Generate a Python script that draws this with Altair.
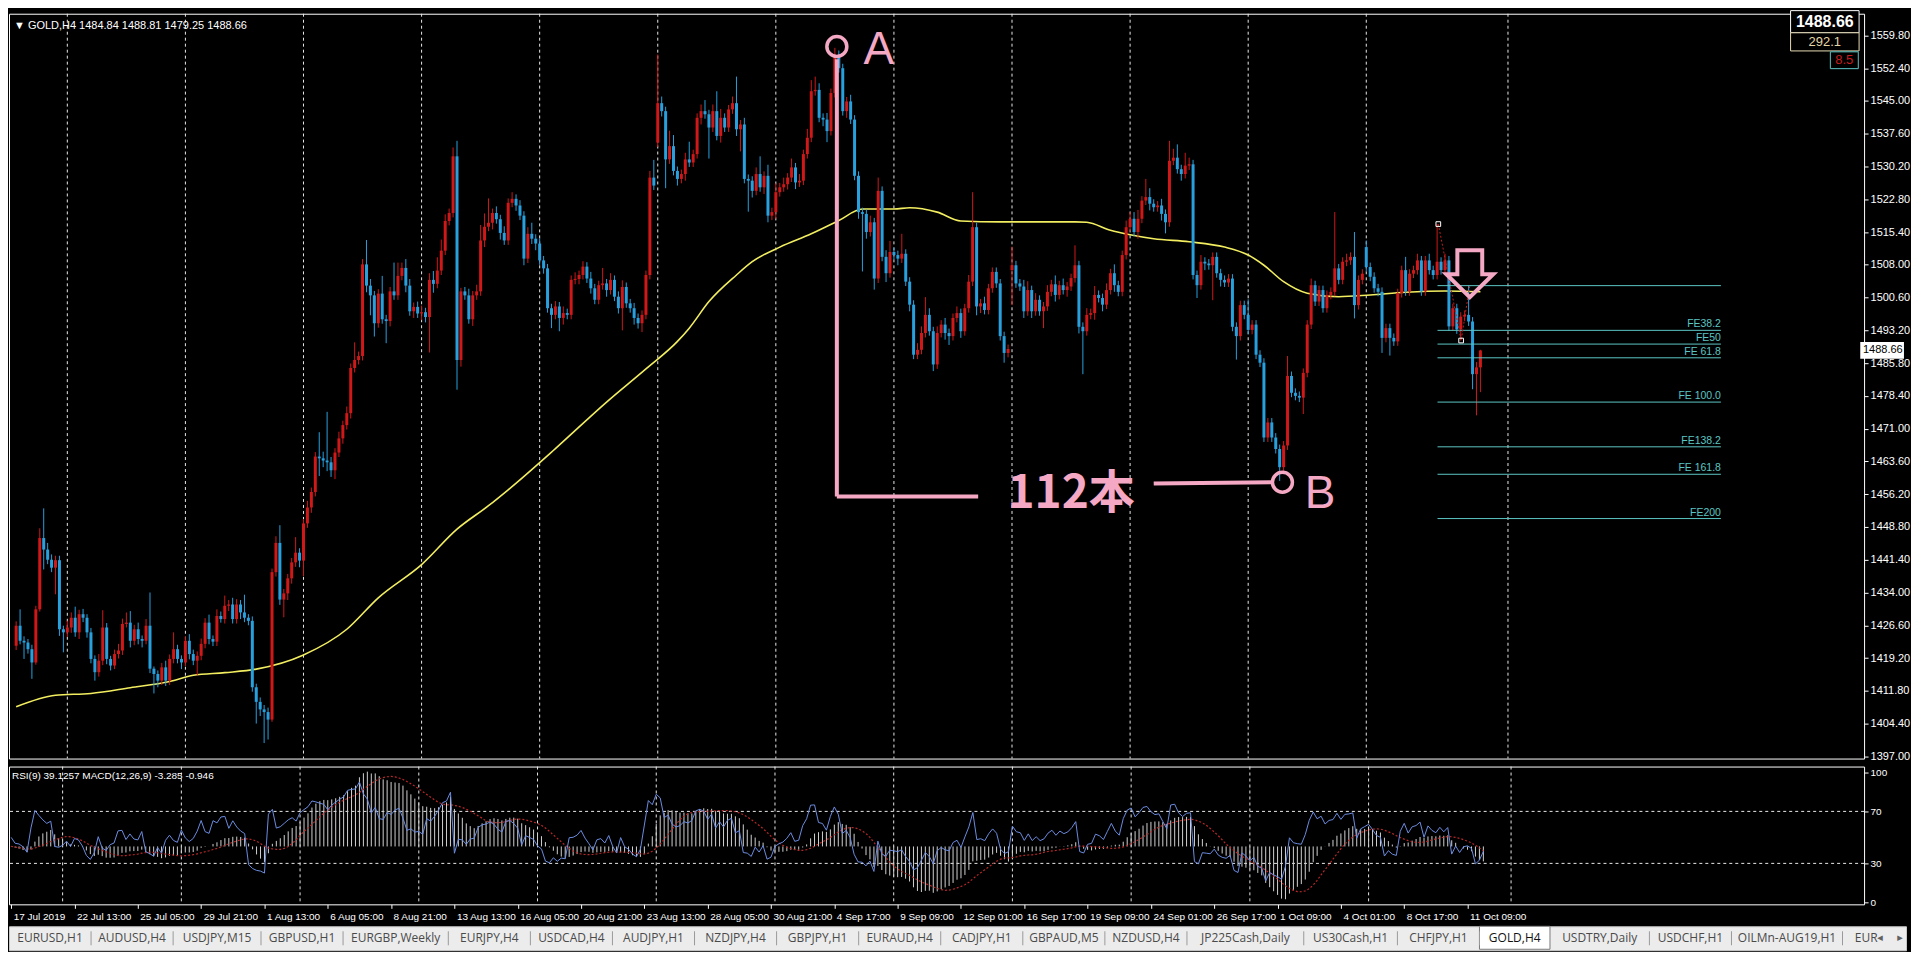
import altair as alt
import pandas as pd
import numpy as np

# ---------------- data ----------------
close_s1 = [1426.5, 1423.1, 1422.7, 1421.2, 1418.2, 1430.2, 1446.3, 1443.7, 1441.4, 1439.6,
            1441.3, 1425.7, 1425.0, 1426.1, 1428.3, 1425.0, 1429.1, 1428.3, 1425.0, 1419.0,
            1416.0, 1418.6, 1426.1, 1419.0, 1417.5, 1420.1, 1420.9, 1426.9, 1427.2, 1423.1,
            1425.7, 1423.5, 1423.1, 1426.5, 1416.8, 1415.6, 1414.1, 1417.1, 1414.1, 1419.0,
            1421.2, 1419.0, 1418.2, 1423.1, 1420.1, 1418.6, 1419.7, 1422.4, 1427.2, 1423.5,
            1422.9, 1428.7, 1428.0, 1431.0, 1431.3, 1428.0, 1431.3, 1429.5, 1428.3, 1427.6,
            1412.6, 1409.3]
close_s2 = [1407.6, 1407.0, 1405.3, 1438.6, 1445.2, 1432.4, 1433.8, 1437.2, 1440.8, 1443.0,
            1441.2, 1449.6, 1453.2, 1456.7, 1464.7, 1464.3, 1463.8, 1463.4, 1461.6, 1465.6,
            1468.8, 1471.8, 1474.5, 1484.7, 1486.5, 1487.4, 1508.1, 1503.3, 1501.1, 1494.8,
            1501.5, 1495.7, 1495.3, 1502.0, 1501.1, 1505.5, 1507.3, 1503.3, 1497.5, 1498.5,
            1497.0, 1497.3, 1496.2, 1504.6, 1503.7, 1506.7, 1511.2, 1517.9, 1519.7, 1532.5,
            1486.5, 1502.0, 1501.1, 1495.7, 1501.1, 1502.0, 1513.5, 1516.6, 1517.5, 1519.7,
            1518.3, 1515.2]
close_s3 = [1513.5, 1522.0, 1522.9, 1521.4, 1519.1, 1509.4, 1515.0, 1513.9, 1512.8, 1509.0,
            1507.2, 1498.2, 1496.7, 1498.6, 1496.0, 1497.1, 1496.7, 1504.6, 1504.8, 1505.7,
            1507.6, 1504.9, 1502.7, 1500.1, 1503.4, 1503.8, 1502.3, 1504.6, 1500.8, 1498.2,
            1503.0, 1499.3, 1498.2, 1496.0, 1494.8, 1496.7, 1505.7, 1527.7, 1525.9, 1544.5,
            1542.7, 1531.8, 1534.8, 1529.2, 1527.4, 1528.5, 1531.8, 1531.1, 1533.0, 1541.2,
            1542.7, 1542.0, 1539.0, 1542.7, 1537.1, 1541.2, 1539.0, 1543.1, 1544.5, 1538.6,
            1539.7, 1527.4, 1527.0]
close_s4 = [1524.7, 1528.5, 1525.5, 1528.1, 1519.1, 1519.9, 1524.4, 1525.5, 1526.2, 1527.7,
            1530.0, 1526.6, 1527.0, 1533.0, 1536.7, 1547.2, 1547.5, 1541.2, 1540.8, 1538.2,
            1546.8, 1555.4, 1552.4, 1542.7, 1544.9, 1540.8, 1528.1, 1519.9, 1519.5, 1515.4,
            1517.6, 1504.9, 1524.7, 1509.8, 1506.1, 1510.9, 1510.2, 1509.4, 1510.5, 1504.2,
            1499.0, 1487.7, 1488.8, 1492.6, 1496.7, 1493.0, 1485.5, 1492.6, 1494.5, 1492.6,
            1491.9, 1496.0, 1497.1, 1493.0, 1498.2, 1504.2, 1516.5, 1498.6, 1499.3, 1497.8,
            1502.7, 1506.4, 1503.8]
close_s5 = [1491.9, 1488.1, 1489.0, 1507.9, 1503.8, 1503.1, 1497.5, 1502.3, 1497.5, 1500.1,
            1497.5, 1498.6, 1501.9, 1503.6, 1501.2, 1503.4, 1502.3, 1503.1, 1505.0, 1507.9,
            1494.0, 1493.0, 1496.7, 1497.1, 1501.2, 1500.5, 1499.0, 1502.3, 1506.1, 1503.4,
            1501.9, 1510.2, 1516.5, 1518.4, 1515.4, 1518.4, 1522.5, 1523.3, 1521.8, 1521.0,
            1521.4, 1519.5, 1517.6, 1531.5, 1532.2, 1529.6, 1528.5, 1530.4, 1530.7, 1505.7,
            1503.4, 1508.7, 1508.3, 1507.9, 1509.8, 1506.1, 1504.6, 1504.0, 1504.9, 1494.0,
            1491.9, 1498.9, 1496.7]
close_s6 = [1493.3, 1494.5, 1487.7, 1485.9, 1469.0, 1472.4, 1469.0, 1466.4, 1462.3, 1467.2,
            1482.9, 1479.1, 1478.4, 1478.0, 1483.6, 1494.5, 1503.4, 1499.7, 1502.3, 1498.2,
            1501.2, 1501.9, 1507.2, 1504.6, 1508.7, 1509.0, 1509.8, 1498.9, 1504.6, 1506.0,
            1507.5, 1505.3, 1502.7, 1501.9, 1491.5, 1493.7, 1491.5, 1490.7, 1501.6, 1506.8,
            1502.0, 1506.0, 1506.8, 1509.0, 1502.0, 1509.0, 1506.8, 1505.7, 1508.7, 1506.8,
            1509.0, 1494.1, 1498.2, 1493.4, 1496.3, 1496.7, 1495.2, 1483.3, 1484.84, 1488.66]

wick_up_s1 = [1.0, 3.7, 1.0, 0.8, 1.0, 0.8, 2.2, 6.7, 1.5, 1.2,
              1.0, 1.0, 0.8, 1.5, 1.2, 2.5, 1.0, 1.2, 0.8, 1.0,
              0.8, 1.5, 3.9, 1.0, 0.7, 1.0, 1.5, 1.2, 2.3, 2.6,
              1.0, 1.5, 0.8, 1.5, 7.5, 0.5, 0.8, 1.0, 1.5, 1.0,
              3.8, 1.0, 0.8, 1.0, 1.5, 1.0, 1.0, 1.2, 1.0, 1.8,
              0.8, 1.5, 1.0, 2.3, 1.0, 1.5, 1.2, 1.0, 4.0, 0.8,
              1.0, 0.8]
wick_up_s2 = [1.0, 1.0, 1.0, 0.8, 1.5, 4.0, 1.0, 1.0, 1.0, 3.5,
              1.0, 1.0, 1.5, 1.0, 1.0, 5.5, 1.5, 11.0, 1.2, 1.0,
              1.5, 1.0, 1.5, 1.0, 4.0, 1.0, 1.2, 5.5, 1.5, 1.0,
              1.0, 4.0, 1.0, 1.0, 6.5, 3.0, 1.2, 2.0, 1.5, 1.0,
              1.2, 1.5, 1.0, 1.5, 2.0, 3.0, 2.5, 1.5, 1.0, 2.0,
              3.5, 0.8, 1.0, 1.5, 1.0, 1.5, 3.5, 3.0, 5.5, 1.0,
              1.5, 1.0]
wick_up_s3 = [1.5, 1.0, 1.5, 1.0, 1.2, 1.0, 1.5, 2.5, 1.0, 1.2,
              1.0, 1.0, 1.0, 1.2, 1.0, 1.5, 1.0, 1.0, 1.5, 1.0,
              1.2, 1.0, 1.5, 1.0, 1.0, 3.5, 1.0, 1.5, 1.0, 1.2,
              1.5, 1.0, 1.0, 1.2, 1.0, 1.0, 1.0, 1.5, 4.0, 11.0,
              1.5, 1.0, 3.5, 2.5, 1.0, 1.0, 1.5, 4.0, 1.0, 1.0,
              1.5, 2.5, 1.0, 1.5, 4.5, 2.0, 1.0, 1.0, 1.5, 6.0,
              1.0, 1.5, 1.0]
wick_up_s4 = [1.0, 1.5, 4.0, 1.0, 2.5, 1.0, 2.0, 1.0, 1.5, 1.0,
              2.0, 1.0, 1.5, 1.0, 2.0, 2.5, 3.0, 1.5, 1.0, 1.5,
              1.0, 1.6, 1.0, 1.0, 1.0, 1.5, 1.0, 1.0, 1.0, 1.0,
              1.5, 1.0, 3.0, 1.0, 1.5, 2.5, 1.0, 1.0, 4.5, 1.0,
              1.0, 1.0, 1.5, 1.5, 4.0, 1.5, 1.0, 1.5, 1.0, 1.5,
              1.0, 1.0, 1.5, 1.0, 1.0, 1.5, 7.9, 1.0, 1.0, 1.5,
              1.0, 1.0, 1.0]
wick_up_s5 = [1.0, 1.0, 1.0, 4.2, 1.0, 1.0, 1.5, 2.0, 1.0, 1.5,
              1.0, 1.0, 1.5, 1.0, 2.0, 1.0, 1.5, 1.0, 1.0, 4.5,
              1.0, 1.0, 1.5, 1.0, 2.0, 1.0, 1.0, 1.5, 1.0, 2.0,
              1.0, 1.0, 1.5, 1.5, 1.5, 2.0, 1.0, 4.1, 2.0, 1.0,
              1.0, 1.5, 1.0, 4.5, 2.0, 3.0, 1.0, 2.9, 1.5, 1.0,
              1.0, 1.5, 1.0, 1.0, 1.0, 1.0, 1.0, 1.0, 1.0, 1.0,
              1.0, 1.0, 1.0]
wick_up_s6 = [3.5, 1.0, 1.0, 1.0, 1.0, 1.0, 1.0, 1.0, 1.0, 1.0,
              4.5, 1.0, 1.0, 1.0, 1.0, 1.0, 1.5, 1.0, 1.0, 1.0,
              1.0, 1.0, 12.7, 1.0, 1.0, 1.5, 1.0, 5.6, 1.0, 1.0,
              1.5, 1.0, 1.0, 1.0, 1.0, 1.0, 1.0, 1.0, 1.0, 1.0,
              3.0, 1.0, 1.0, 1.5, 1.0, 1.0, 1.5, 1.0, 8.5, 1.0,
              1.5, 1.0, 1.0, 1.0, 1.0, 1.0, 6.6, 1.0, 1.2, 0.15]

wick_dn_s1 = [1.0, 0.8, 3.7, 1.0, 3.7, 0.5, 0.5, 4.5, 1.0, 1.0,
              6.0, 1.5, 4.5, 1.0, 1.2, 1.0, 1.5, 1.0, 1.2, 1.0,
              1.9, 1.0, 1.0, 1.2, 1.1, 0.8, 1.0, 1.0, 0.8, 1.5,
              1.0, 1.2, 1.5, 0.8, 1.0, 4.4, 1.5, 1.0, 1.2, 1.0,
              1.0, 1.0, 1.5, 0.8, 1.2, 1.0, 3.3, 1.0, 1.0, 1.2,
              1.0, 1.0, 0.8, 1.0, 1.2, 1.0, 1.0, 1.5, 1.0, 1.0,
              1.0, 4.9]
wick_dn_s2 = [1.5, 7.0, 4.5, 0.5, 1.0, 1.2, 4.0, 1.5, 1.2, 1.0,
              1.5, 3.5, 1.0, 1.2, 1.0, 4.0, 1.5, 2.0, 1.5, 2.0,
              1.0, 1.2, 1.0, 1.2, 1.0, 1.0, 1.0, 1.5, 4.5, 3.0,
              1.0, 1.0, 5.0, 1.2, 1.0, 1.0, 1.0, 1.5, 1.0, 1.5,
              1.0, 1.5, 1.2, 8.0, 2.0, 1.0, 1.0, 1.0, 1.0, 1.0,
              6.7, 1.5, 1.0, 1.0, 1.5, 1.0, 1.0, 1.5, 1.0, 1.5,
              1.0, 1.5]
wick_dn_s3 = [1.0, 1.0, 1.0, 1.2, 1.0, 1.5, 1.0, 1.2, 1.5, 1.0,
              1.2, 1.0, 3.0, 1.0, 3.0, 1.5, 1.0, 1.0, 1.0, 1.2,
              1.0, 1.0, 1.2, 1.0, 1.0, 1.0, 1.5, 1.0, 1.0, 1.2,
              5.0, 1.0, 1.0, 1.5, 1.2, 2.0, 1.0, 1.0, 1.0, 1.0,
              1.2, 6.5, 1.0, 1.0, 1.5, 1.0, 1.5, 1.0, 1.0, 1.0,
              1.5, 1.0, 7.0, 1.0, 1.0, 1.5, 1.0, 1.0, 1.0, 1.5,
              5.0, 1.0, 7.0]
wick_dn_s4 = [1.5, 1.0, 1.0, 1.5, 1.5, 1.0, 1.5, 1.0, 1.0, 1.2,
              1.0, 1.5, 1.0, 1.0, 1.0, 1.0, 1.0, 1.0, 1.5, 2.5,
              1.0, 1.0, 1.0, 1.0, 1.5, 1.0, 1.0, 1.5, 13.0, 1.5,
              1.0, 2.5, 1.0, 1.0, 2.0, 1.0, 1.0, 1.5, 1.0, 1.0,
              1.5, 1.0, 1.0, 1.0, 1.0, 1.0, 1.5, 1.0, 1.0, 1.5,
              2.0, 1.0, 1.0, 1.5, 1.0, 1.0, 1.0, 2.0, 1.5, 1.0,
              1.0, 1.0, 1.0]
wick_dn_s5 = [1.0, 2.2, 1.0, 7.9, 1.0, 1.0, 1.5, 1.0, 1.5, 1.0,
              1.0, 3.8, 1.0, 1.0, 1.5, 1.0, 1.0, 1.5, 1.0, 1.0,
              1.5, 9.7, 1.0, 1.0, 1.5, 1.0, 1.5, 1.0, 1.0, 1.5,
              1.0, 1.0, 1.0, 1.0, 1.0, 1.5, 1.0, 1.0, 1.5, 1.0,
              1.0, 1.5, 2.5, 1.0, 1.0, 1.0, 1.5, 1.0, 1.0, 1.0,
              2.9, 1.0, 1.5, 1.0, 7.9, 1.0, 1.5, 1.0, 1.0, 1.0,
              5.3, 1.0, 1.0]
wick_dn_s6 = [1.0, 1.0, 1.0, 1.0, 1.0, 1.0, 1.0, 1.0, 3.1, 1.0,
              1.0, 1.0, 1.0, 1.0, 3.7, 1.0, 1.0, 1.0, 1.0, 1.0,
              1.0, 1.0, 1.0, 1.0, 1.0, 1.0, 1.0, 3.0, 1.0, 1.0,
              1.0, 1.0, 1.0, 1.0, 3.4, 1.0, 4.0, 1.0, 1.0, 1.0,
              1.0, 1.0, 1.0, 1.0, 1.0, 1.0, 1.0, 1.0, 1.0, 1.0,
              1.0, 1.0, 1.0, 1.0, 2.5, 1.0, 1.0, 3.4, 9.3, 5.59]

# opens that differ from the previous close (weekly gaps)
gap_opens = {0: 1422.0, 163: 1535.6, 253: 1506.8, 343: 1512.0}

ma_bar = [0, 10, 19, 29, 39, 45, 53, 61, 73, 84, 92, 103, 112, 120, 125, 137, 150, 160,
          168, 171, 176, 183, 187, 194, 202, 209, 215, 223, 227, 234, 240, 250, 269, 272,
          278, 283, 289, 298, 307, 313, 317, 322, 328, 336, 344, 353, 363, 372]
ma_value = [1408.2, 1410.8, 1411.2, 1412.5, 1413.9, 1415.3, 1415.9, 1416.7, 1419.9, 1425.7,
            1432.8, 1440.3, 1448.3, 1453.6, 1457.2, 1466.5, 1477.0, 1484.5, 1490.7, 1493.7,
            1499.7, 1505.7, 1508.7, 1512.0, 1515.0, 1518.0, 1520.6, 1520.6, 1520.9, 1519.9,
            1517.9, 1517.7, 1517.7, 1517.6, 1515.8, 1514.8, 1513.9, 1513.2, 1512.0, 1510.2,
            1507.9, 1504.2, 1501.6, 1500.8, 1501.2, 1501.8, 1502.1, 1501.9]

fe_levels = [1503.3, 1493.2, 1490.1, 1487.0, 1477.0, 1466.9, 1460.7, 1450.7]
fe_labels = ["", "FE38.2", "FE50", "FE 61.8", "FE 100.0", "FE138.2", "FE 161.8", "FE200"]
fe_anchor_bar = [361.3, 367.1, 369.3]
fe_anchor_price = [1517.2, 1490.9, 1503.3]

week_bars = [13, 43, 73, 103, 133, 163, 193, 223, 253, 283, 313, 343, 379]
price_ticks = [1397.00, 1404.40, 1411.80, 1419.20, 1426.60, 1434.00, 1441.40, 1448.80,
               1456.20, 1463.60, 1471.00, 1478.40, 1485.80, 1493.20, 1500.60, 1508.00,
               1515.40, 1522.80, 1530.20, 1537.60, 1545.00, 1552.40, 1559.80]
rsi_ticks = [0, 30, 70, 100]
rsi_levels = [30, 70]
date_labels = ["17 Jul 2019", "22 Jul 13:00", "25 Jul 05:00", "29 Jul 21:00", "1 Aug 13:00",
               "6 Aug 05:00", "8 Aug 21:00", "13 Aug 13:00", "16 Aug 05:00", "20 Aug 21:00",
               "23 Aug 13:00", "28 Aug 05:00", "30 Aug 21:00", "4 Sep 17:00", "9 Sep 09:00",
               "12 Sep 01:00", "16 Sep 17:00", "19 Sep 09:00", "24 Sep 01:00", "26 Sep 17:00",
               "1 Oct 09:00", "4 Oct 01:00", "8 Oct 17:00", "11 Oct 09:00"]
label_bars = [0, 16, 32, 48, 64, 80, 96, 112, 128, 144, 160, 176, 192, 208, 224, 240, 256,
              272, 288, 304, 320, 336, 352, 368]
tabs = ["EURUSD,H1", "AUDUSD,H4", "USDJPY,M15", "GBPUSD,H1", "EURGBP,Weekly", "EURJPY,H4",
        "USDCAD,H4", "AUDJPY,H1", "NZDJPY,H4", "GBPJPY,H1", "EURAUD,H4", "CADJPY,H1",
        "GBPAUD,M5", "NZDUSD,H4", "JP225Cash,Daily", "US30Cash,H1", "CHFJPY,H1", "GOLD,H4",
        "USDTRY,Daily", "USDCHF,H1", "OILMn-AUG19,H1", "EUR"]
active_tab = "GOLD,H4"
header_text = "\u25BC GOLD,H4  1484.84 1488.81 1479.25 1488.66"
indicator_text = "RSI(9) 39.1257  MACD(12,26,9) -3.285 -0.946"
info_texts = ["1488.66", "292.1", "8.5"]
last_price = 1488.66
span_text = "112\u672C"

# ---------------- styling ----------------
FONT = "Liberation Sans"
UP = "#d01818"
DOWN = "#27a0dd"
MA_COL = "#f2ee60"
CYAN = "#5cc6c4"
PINK = "#f5a8c4"
RSI_COL = "#6a8ce0"
HIST = "#d0d0d0"
SIG = "#b82828"

W = 1858
H_MAIN = 746
H_RSI = 138
XDOM = [-0.55, 468.2]
YDOM = [1396.5, 1564.7]

# ---------------- candles ----------------
close = close_s1 + close_s2 + close_s3 + close_s4 + close_s5 + close_s6
wick_up = wick_up_s1 + wick_up_s2 + wick_up_s3 + wick_up_s4 + wick_up_s5 + wick_up_s6
wick_dn = wick_dn_s1 + wick_dn_s2 + wick_dn_s3 + wick_dn_s4 + wick_dn_s5 + wick_dn_s6
n = len(close)
assert len(wick_up) == n and len(wick_dn) == n, (n, len(wick_up), len(wick_dn))

opens = [gap_opens.get(i, close[i - 1] if i > 0 else close[0]) for i in range(n)]
rows = []
for i in range(n):
    o, c = opens[i], close[i]
    top, bot = max(o, c), min(o, c)
    if top - bot < 0.25:
        mid = (top + bot) / 2
        top, bot = mid + 0.12, mid - 0.12
    rows.append({"i": i, "o": o, "c": c,
                 "h": max(o, c) + wick_up[i], "l": min(o, c) - wick_dn[i],
                 "b0": bot, "b1": top, "dir": "up" if c >= o else "down"})
candles = pd.DataFrame(rows)

# indicators computed from the closes (Wilder RSI(9), MACD(12,26,9))
dd = np.diff(np.array(close, dtype=float))
seed = float(np.mean(np.abs(dd[:20]))) / 2.0
ag, al = seed, seed
rsi_vals = [50.0]
for v in dd:
    ag = (ag * 8 + max(v, 0.0)) / 9
    al = (al * 8 + max(-v, 0.0)) / 9
    rsi_vals.append(100.0 - 100.0 / (1.0 + ag / al) if al > 0 else 100.0)
s = pd.Series(close, dtype=float)
macd = s.ewm(span=12, adjust=False).mean() - s.ewm(span=26, adjust=False).mean()
signal = macd.rolling(9, min_periods=1).mean()
ind = pd.DataFrame({"i": range(n), "rsi": rsi_vals, "macd": macd, "sig": signal, "zero": 0.0})
mlo, mhi = float(macd.min()), float(macd.max())
mpad = 0.04 * (mhi - mlo)

# ---------------- scales / axes ----------------
xsc = alt.Scale(domain=XDOM, nice=False, zero=False)
ysc = alt.Scale(domain=YDOM, nice=False, zero=False)
price_axis = alt.Axis(orient="right", values=price_ticks, format=".2f", title=None,
                      tickSize=4, labelPadding=2, domain=False, grid=False,
                      labelOverlap=False, labelFlush=False)
dir_scale = alt.Scale(domain=["up", "down"], range=[UP, DOWN])


def X(field):
    return alt.X(field, type="quantitative", scale=xsc, axis=None)


def Yp(field):
    return alt.Y(field, type="quantitative", scale=ysc, axis=price_axis)


week_df = pd.DataFrame({"i": week_bars})
grid_main = alt.Chart(week_df).mark_rule(color="#e8e8e8", strokeDash=[3, 3], strokeWidth=1).encode(
    x=X("i"))

ma_df = pd.DataFrame({"bar": ma_bar, "val": ma_value})
ma_line = alt.Chart(ma_df).mark_line(color=MA_COL, strokeWidth=1.6, interpolate="monotone").encode(
    x=X("bar"), y=Yp("val"))

wicks = alt.Chart(candles).mark_rule(strokeWidth=1).encode(
    x=X("i"), y=Yp("l"), y2="h",
    color=alt.Color("dir:N", scale=dir_scale, legend=None))
bodies = alt.Chart(candles).mark_bar(size=3).encode(
    x=X("i"), y=Yp("b0"), y2="b1",
    color=alt.Color("dir:N", scale=dir_scale, legend=None))

fe_df = pd.DataFrame({"lv": fe_levels, "lab": fe_labels})
fe_df["x0"] = 361.1
fe_df["x1"] = 433.1
fe_lines = alt.Chart(fe_df).mark_rule(color=CYAN, strokeWidth=1).encode(
    x=X("x0"), x2="x1", y=Yp("lv"))
fe_text = alt.Chart(fe_df).mark_text(align="right", baseline="bottom", dy=-1, color=CYAN,
                                     font=FONT, fontSize=10.5).encode(
    x=X("x1"), y=Yp("lv"), text="lab:N")

anc_df = pd.DataFrame({"bar": fe_anchor_bar, "p": fe_anchor_price, "k": [0, 1, 2]})
anc_line = alt.Chart(anc_df).mark_line(color="#c02020", strokeDash=[2, 2], strokeWidth=1).encode(
    x=X("bar"), y=Yp("p"), order="k:Q")
anc_pts = alt.Chart(anc_df.iloc[:2]).mark_point(shape="square", size=22, filled=False,
                                                color="white", strokeWidth=1, opacity=1).encode(
    x=X("bar"), y=Yp("p"))

ARROW = "M -0.53 -1 L 0.53 -1 L 0.53 0.02 L 1 0.02 L 0 1 L -1 0.02 L -0.53 0.02 Z"
arrow = alt.Chart(pd.DataFrame({"bar": [369.3], "p": [1506.0]})).mark_point(
    shape=ARROW, size=2209, filled=False, color=PINK, strokeWidth=4, opacity=1).encode(
    x=X("bar"), y=Yp("p"))

seg_df = pd.DataFrame({"x0": [208.5, 208.5, 289.0], "x1": [208.5, 244.4, 319.0],
                       "y0": [1554.4, 1455.7, 1458.6], "y1": [1455.7, 1455.7, 1458.9]})
segs = alt.Chart(seg_df).mark_rule(color=PINK, strokeWidth=4).encode(
    x=X("x0"), x2="x1", y=Yp("y0"), y2="y1")
circ = alt.Chart(pd.DataFrame({"bar": [208.5, 321.7], "p": [1557.3, 1458.9]})).mark_point(
    shape="circle", size=400, filled=False, color=PINK, strokeWidth=3.5, opacity=1).encode(
    x=X("bar"), y=Yp("p"))
ab_text = alt.Chart(pd.DataFrame({"bar": [215.3, 327.4], "p": [1556.6, 1456.2], "t": ["A", "B"]})).mark_text(
    align="left", baseline="middle", color=PINK, font=FONT, fontSize=46).encode(
    x=X("bar"), y=Yp("p"), text="t:N")
span_lbl = alt.Chart(pd.DataFrame({"bar": [268.0], "p": [1456.2], "t": [span_text]})).mark_text(
    align="center", baseline="middle", color=PINK, font="Noto Sans CJK JP", fontWeight="bold",
    fontSize=46).encode(x=X("bar"), y=Yp("p"), text="t:N")

header = alt.Chart(pd.DataFrame({"t": [header_text]})).mark_text(
    align="left", baseline="middle", color="white", font=FONT, fontSize=11).encode(
    x=alt.value(5), y=alt.value(12), text="t:N")

box_df = pd.DataFrame({"x0": [450.8, 450.8, 460.9], "x1": [468.2, 468.2, 468.0],
                       "y0": [1565.4, 1560.4, 1556.1], "y1": [1560.4, 1556.3, 1552.3],
                       "st": ["#ffffff", "#e6dcb4", CYAN]})
boxes = alt.Chart(box_df).mark_rect(fill="black", strokeWidth=1).encode(
    x=X("x0"), x2="x1", y=Yp("y0"), y2="y1",
    stroke=alt.Stroke("st:N", scale=None))
box_t1 = alt.Chart(pd.DataFrame({"bar": [459.5], "p": [1562.9], "t": [info_texts[0]]})).mark_text(
    align="center", baseline="middle", color="white", font=FONT, fontWeight="bold", fontSize=16).encode(
    x=X("bar"), y=Yp("p"), text="t:N")
box_t2 = alt.Chart(pd.DataFrame({"bar": [459.5], "p": [1558.35], "t": [info_texts[1]]})).mark_text(
    align="center", baseline="middle", color="#e6d6a6", font=FONT, fontSize=13).encode(
    x=X("bar"), y=Yp("p"), text="t:N")
box_t3 = alt.Chart(pd.DataFrame({"bar": [464.45], "p": [1554.2], "t": [info_texts[2]]})).mark_text(
    align="center", baseline="middle", color="#c81c1c", font=FONT, fontSize=13).encode(
    x=X("bar"), y=Yp("p"), text="t:N")

tag_rect = alt.Chart(pd.DataFrame({"x0": [468.5], "x1": [479.6], "y0": [last_price - 1.9],
                                   "y1": [last_price + 1.9]})).mark_rect(fill="white").encode(
    x=X("x0"), x2="x1", y=Yp("y0"), y2="y1")
tag_text = alt.Chart(pd.DataFrame({"bar": [469.2], "p": [last_price], "t": [f"{last_price:.2f}"]})).mark_text(
    align="left", baseline="middle", color="black", font=FONT, fontSize=11).encode(
    x=X("bar"), y=Yp("p"), text="t:N")

main = alt.layer(grid_main, ma_line, wicks, bodies, fe_lines, fe_text, anc_line, anc_pts,
                 arrow, segs, circ, ab_text, span_lbl, header, boxes, box_t1, box_t2, box_t3,
                 tag_rect, tag_text).properties(width=W, height=H_MAIN)

# ---------------- RSI / MACD panel ----------------
js_labels = "[" + ",".join("'" + t + "'" for t in date_labels) + "]"
js_bars = "[" + ",".join(str(b) for b in label_bars) + "]"
date_axis = alt.Axis(orient="bottom", values=label_bars,
                     labelExpr=f"{js_labels}[indexof({js_bars}, datum.value)]",
                     labelAlign="left", labelBaseline="top", labelOffset=2, labelPadding=3,
                     labelFontSize=10, tickSize=4, domain=False, grid=False, title=None,
                     labelOverlap=False, labelFlush=False, labelBound=False)
xr = alt.X("i:Q", scale=xsc, axis=date_axis)
rsc = alt.Scale(domain=[-1.5, 104.5], nice=False, zero=False)
msc = alt.Scale(domain=[mlo - mpad, mhi + mpad], nice=False, zero=False)
rsi_axis = alt.Axis(orient="right", values=rsi_ticks, title=None, tickSize=4, labelPadding=2,
                    labelFontSize=10, domain=False, grid=False, labelFlush=False, labelOverlap=False)

grid_rsi = alt.Chart(week_df).mark_rule(color="#e8e8e8", strokeDash=[3, 3], strokeWidth=1).encode(x=xr)
lvl = alt.Chart(pd.DataFrame({"v": rsi_levels})).mark_rule(
    color="#e8e8e8", strokeDash=[3, 3], strokeWidth=1).encode(
    y=alt.Y("v:Q", scale=rsc, axis=None))
hist = alt.Chart(ind).mark_rule(color=HIST, strokeWidth=1).encode(
    x=xr, y=alt.Y("zero:Q", scale=msc, axis=None), y2="macd:Q")
sig_line = alt.Chart(ind).mark_line(color=SIG, strokeWidth=1.2, strokeDash=[2, 2]).encode(
    x=xr, y=alt.Y("sig:Q", scale=msc, axis=None))
rsi_line = alt.Chart(ind).mark_line(color=RSI_COL, strokeWidth=1).encode(
    x=xr, y=alt.Y("rsi:Q", scale=rsc, axis=rsi_axis))
ind_lbl = alt.Chart(pd.DataFrame({"t": [indicator_text]})).mark_text(
    align="left", baseline="middle", color="white", font=FONT, fontSize=10).encode(
    x=alt.value(3), y=alt.value(9), text="t:N")

rsi_panel = alt.layer(grid_rsi, lvl, hist, sig_line, rsi_line, ind_lbl).resolve_scale(
    y="independent").properties(width=W, height=H_RSI)

# ---------------- tab bar ----------------
TW = 1900
tab_rows = []
x = 0.0
for t in tabs:
    w = 5.8 * len(t) + 30
    tab_rows.append({"name": t, "x0": x, "x1": x + w, "cx": x + w / 2,
                     "sel": t == active_tab})
    x += w
tab_df = pd.DataFrame(tab_rows)
tsc = alt.Scale(domain=[0, TW], nice=False, zero=False)
sel_rect = alt.Chart(tab_df[tab_df["sel"]]).mark_rect(fill="white", stroke="#7a7a7a", strokeWidth=1).encode(
    x=alt.X("x0:Q", scale=tsc, axis=None), x2="x1", y=alt.value(0), y2=alt.value(23))
seps = alt.Chart(tab_df[~tab_df["sel"]].iloc[:-1]).mark_rule(color="#9a9a9a", strokeWidth=1).encode(
    x=alt.X("x1:Q", scale=tsc, axis=None), y=alt.value(5), y2=alt.value(19))
tab_text = alt.Chart(tab_df).mark_text(baseline="middle", font="Open Sans", fontSize=12).encode(
    x=alt.X("cx:Q", scale=tsc, axis=None), y=alt.value(12), text="name:N",
    color=alt.condition("datum.sel", alt.value("#111111"), alt.value("#4a4a4a")))
arrows = alt.Chart(pd.DataFrame({"x": [TW - 26, TW - 6], "t": ["\u25C2", "\u25B8"]})).mark_text(
    baseline="middle", font="DejaVu Sans", fontSize=11, color="#606060").encode(
    x=alt.X("x:Q", scale=tsc, axis=None), y=alt.value(12), text="t:N")
tabbar = alt.layer(sel_rect, seps, tab_text, arrows).properties(
    width=TW, height=24, view=alt.ViewBackground(fill="#ececec", stroke="#c8c8c8"))

chart = alt.vconcat(main, rsi_panel, tabbar, spacing=3, padding=0, background="#000000").configure_view(
    stroke="white", strokeWidth=1).configure_axis(
    labelColor="white", tickColor="white", labelFont=FONT, labelFontSize=11)

chart.save("out.html", embed_options={"renderer": "svg", "actions": False})
